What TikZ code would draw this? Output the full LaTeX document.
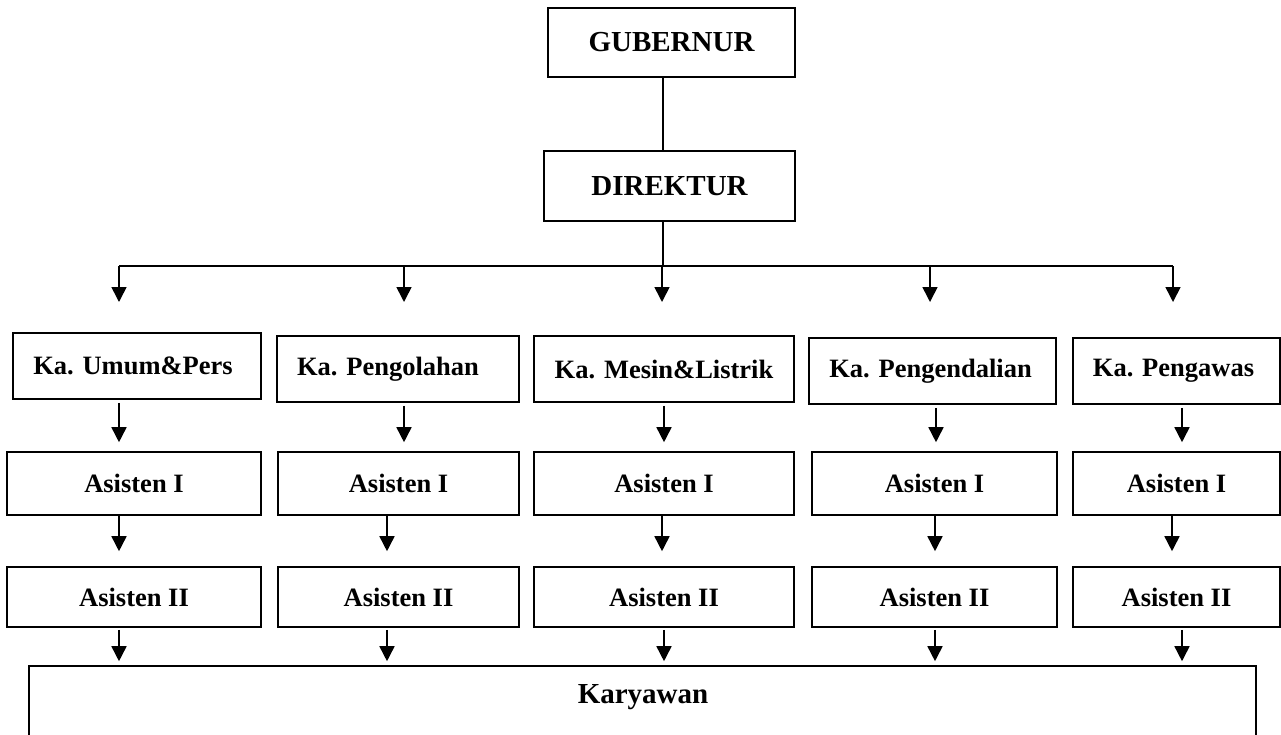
\documentclass[tikz,border=0pt]{standalone}
\usepackage{fontspec}
\setmainfont{Liberation Serif}
\usetikzlibrary{arrows.meta}
\newcommand{\lsh}[1]{\hspace*{-#1}}
\begin{document}
\begin{tikzpicture}[x=1pt,y=-1pt,
  box/.style={draw, line width=1.6pt, inner sep=0pt, font=\bfseries\fontsize{26.5}{30}\selectfont},
  bigbox/.style={box, font=\bfseries\fontsize{29}{32}\selectfont},
  conn/.style={line width=1.6pt},
  arr/.style={line width=1.6pt, -{Triangle[length=15pt,width=15pt]}}]
\clip (0,0) rectangle (1281,734);
% top boxes
\node[bigbox, minimum width=247pt, minimum height=69pt] (gub) at (671.5,42.5) {GUBERNUR};
\node[bigbox, minimum width=251pt, minimum height=70pt] (dir) at (669.5,186) {DIREKTUR};
% Ka boxes
\node[box, minimum width=248pt, minimum height=66pt] (ka1) at (137,366) {\lsh{8pt}Ka. Umum\&Pers};
\node[box, minimum width=242pt, minimum height=66pt] (ka2) at (398,369) {\lsh{20pt}Ka. Pengolahan};
\node[box, minimum width=260pt, minimum height=66pt] (ka3) at (664,369) {Ka. Mesin\&Listrik};
\node[box, minimum width=247pt, minimum height=66pt] (ka4) at (932.5,371) {\lsh{4pt}Ka. Pengendalian};
\node[box, minimum width=207pt, minimum height=66pt] (ka5) at (1176.5,371) {\lsh{6pt}Ka. Pengawas};
% Asisten I
\node[box, minimum width=254pt, minimum height=63pt] (ai1) at (134,483.5) {Asisten I};
\node[box, minimum width=241pt, minimum height=63pt] (ai2) at (398.5,483.5) {Asisten I};
\node[box, minimum width=260pt, minimum height=63pt] (ai3) at (664,483.5) {Asisten I};
\node[box, minimum width=245pt, minimum height=63pt] (ai4) at (934.5,483.5) {Asisten I};
\node[box, minimum width=207pt, minimum height=63pt] (ai5) at (1176.5,483.5) {Asisten I};
% Asisten II
\node[box, minimum width=254pt, minimum height=60pt] (aii1) at (134,597) {Asisten II};
\node[box, minimum width=241pt, minimum height=60pt] (aii2) at (398.5,597) {Asisten II};
\node[box, minimum width=260pt, minimum height=60pt] (aii3) at (664,597) {Asisten II};
\node[box, minimum width=245pt, minimum height=60pt] (aii4) at (934.5,597) {Asisten II};
\node[box, minimum width=207pt, minimum height=60pt] (aii5) at (1176.5,597) {Asisten II};
% Karyawan
\node[box, minimum width=1227pt, minimum height=94pt] (kar) at (642.5,713) {};
\node[font=\bfseries\fontsize{29}{32}\selectfont, inner sep=0pt] (kartext) at (643,697) {Karyawan};
% column coordinates
\coordinate (v) at (663,0);
\coordinate (busL) at (119,266);
\coordinate (busR) at (1173,266);
\coordinate (t1) at (119,302);
\coordinate (t2) at (404,302);
\coordinate (t3) at (662,302);
\coordinate (t4) at (930,302);
\coordinate (t5) at (1173,302);
\coordinate (a1) at (119,0);
\coordinate (a2) at (404,0);
\coordinate (a3) at (664,0);
\coordinate (a4) at (936,0);
\coordinate (a5) at (1182,0);
\coordinate (b1) at (119,0);
\coordinate (b2) at (387,0);
\coordinate (b3) at (662,0);
\coordinate (b4) at (935,0);
\coordinate (b5) at (1172,0);
\coordinate (c1) at (119,0);
\coordinate (c2) at (387,0);
\coordinate (c3) at (664,0);
\coordinate (c4) at (935,0);
\coordinate (c5) at (1182,0);
% connectors
\draw[conn] (gub.south -| v) -- (dir.north -| v);
\draw[conn] (dir.south -| v) -- (busL -| v);
\draw[conn] (busL) -- (busR);
\foreach \i in {1,...,5}{
  \draw[arr] (busL -| t\i) -- (t\i);
  \draw[arr, shorten <=3pt, shorten >=9pt] (ka\i.south -| a\i) -- (ai\i.north -| a\i);
  \draw[arr, shorten >=15pt] (ai\i.south -| b\i) -- (aii\i.north -| b\i);
  \draw[arr, shorten <=2pt, shorten >=4pt] (aii\i.south -| c\i) -- (kar.north -| c\i);
}
\end{tikzpicture}
\end{document}
